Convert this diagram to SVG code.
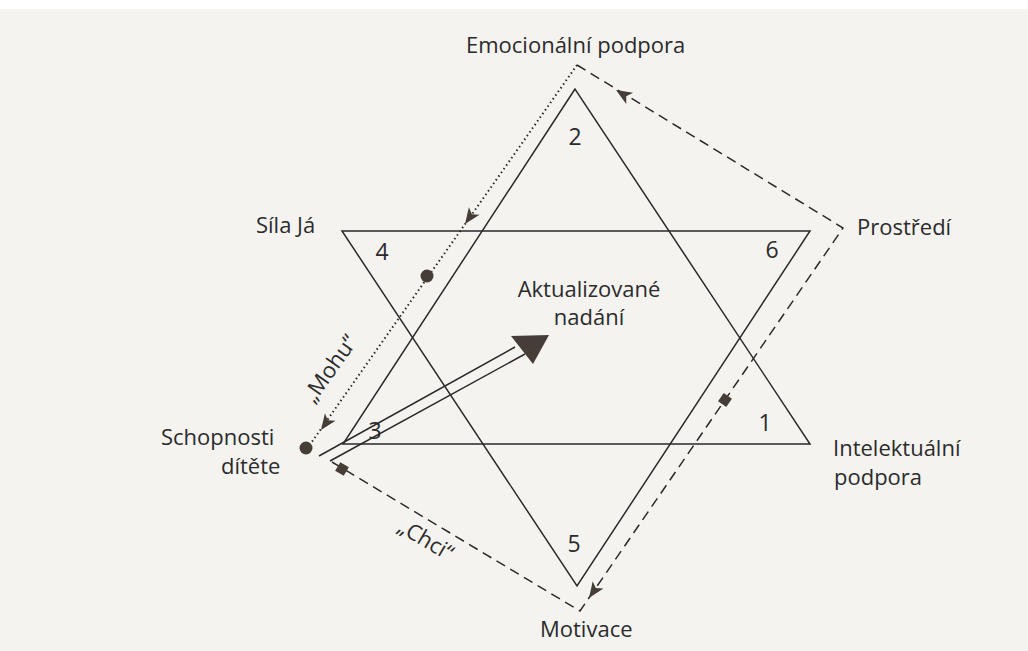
<svg xmlns="http://www.w3.org/2000/svg" width="1028" height="651" viewBox="0 0 1028 651">
<style>
.t{font-family:"Open Sans","Noto Sans","Liberation Sans",sans-serif;font-size:22px;fill:#2b2b2b}
.n{font-family:"Open Sans","Noto Sans","Liberation Sans",sans-serif;font-size:23px;fill:#2b2b2b;text-anchor:middle}
.tri{fill:none;stroke:#2a2a2a;stroke-width:1.5}
.dash{fill:none;stroke:#2a2a2a;stroke-width:1.5;stroke-dasharray:10 6}
.dot{fill:none;stroke:#2a2a2a;stroke-width:2;stroke-dasharray:1.5 3}
.mk{fill:#463d37}
</style>
<defs>
<path id="ah" d="M0,0 L-16,-6.5 L-12,0 L-16,6.5 Z"/>
<rect id="sq" x="-5" y="-5" width="10" height="10"/>
</defs>
<rect width="1028" height="651" fill="#f4f3f0"/>
<rect width="1028" height="9" fill="#ffffff"/>
<g id="star">
<polygon class="tri" points="575,89 343,444 810,444"/>
<polygon class="tri" points="342,231 810,231 577,586"/>
</g>
<g id="connectors">
<path class="dash" d="M577,65 L843,228 L580,611 L332,462"/>
<path class="dot" d="M577,65 L309,446"/>
<g class="mk">
<use href="#ah" transform="translate(616,90) rotate(211.5)"/>
<use href="#ah" transform="translate(589,598) rotate(124.5)"/>
<use href="#ah" transform="translate(465,224) rotate(125.2)"/>
<use href="#ah" transform="translate(321,430) rotate(125.2)"/>
<use href="#sq" transform="translate(725,400) rotate(-55.5)"/>
<use href="#sq" transform="translate(342,469) rotate(31)"/>
<circle cx="427" cy="276" r="6.5"/>
<circle cx="306" cy="448" r="6.5"/>
</g>
<g id="arrow-main">
<line x1="319" y1="456" x2="515" y2="347" stroke="#2a2a2a" stroke-width="1.5"/>
<line x1="330" y1="461" x2="525" y2="354" stroke="#2a2a2a" stroke-width="1.5"/>
<polygon class="mk" points="511,336 549,335 533,364"/>
</g>
<text class="t" x="336" y="373" text-anchor="middle" font-size="21" transform="rotate(-54.8 336 373)">„Mohu“</text>
<text class="t" x="422" y="546" text-anchor="middle" font-size="21" transform="rotate(30.7 422 546)">„Chci“</text>
</g>
<g id="n-emocionalni"><text class="t" x="466" y="53">Emocionální podpora</text></g>
<g id="n-sila"><text class="t" x="256" y="233" font-size="23">Síla Já</text></g>
<g id="n-prostredi"><text class="t" x="857" y="235" font-size="21">Prostředí</text></g>
<g id="n-aktualizovane"><text class="t" x="589" y="297" text-anchor="middle" font-size="21">Aktualizované</text><text class="t" x="589" y="325" text-anchor="middle" font-size="21">nadání</text></g>
<g id="n-intelektualni"><text class="t" x="833" y="456" font-size="21">Intelektuální</text><text class="t" x="834" y="485" font-size="21">podpora</text></g>
<g id="n-schopnosti"><text class="t" x="161" y="445" font-size="21.5">Schopnosti</text><text class="t" x="221" y="474" font-size="21.5">dítěte</text></g>
<g id="n-motivace"><text class="t" x="540" y="637">Motivace</text></g>
<g id="numbers">
<text class="n" x="575" y="145">2</text>
<text class="n" x="382" y="260">4</text>
<text class="n" x="772" y="258">6</text>
<text class="n" x="765" y="431">1</text>
<text class="n" x="375" y="439">3</text>
<text class="n" x="574" y="552">5</text>
</g>
</svg>
